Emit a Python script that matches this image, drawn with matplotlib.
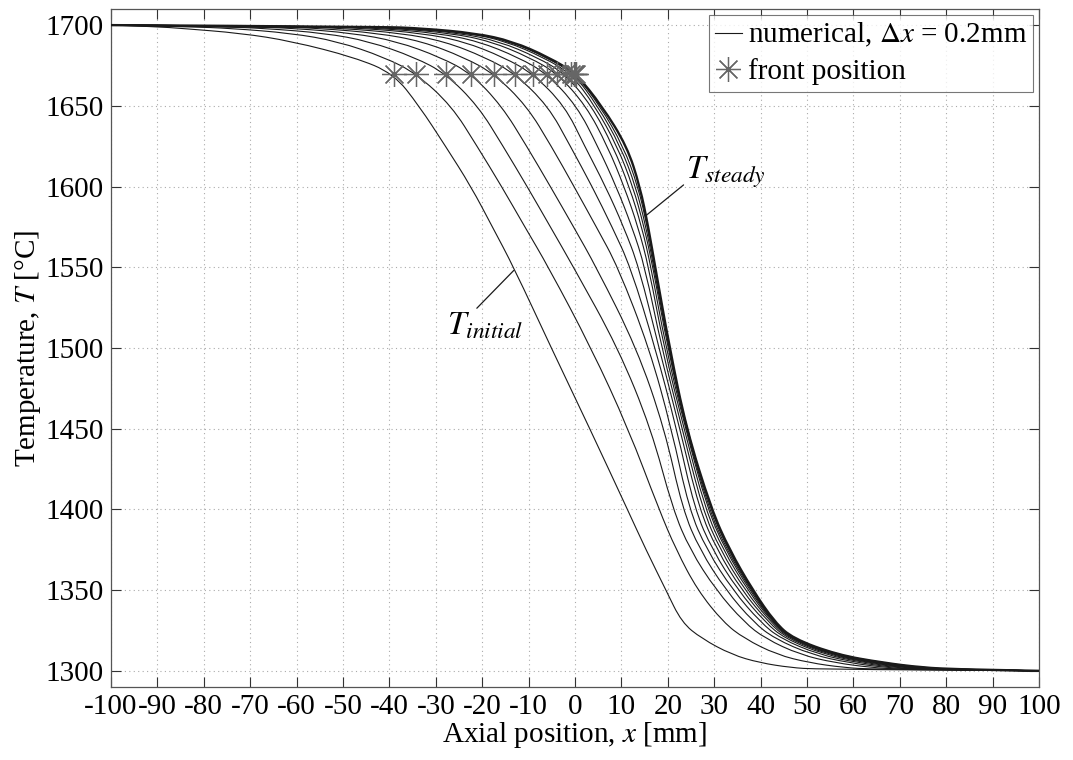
import matplotlib
matplotlib.use('Agg')
import matplotlib.pyplot as plt
from matplotlib.path import Path
from matplotlib.patches import PathPatch
from matplotlib.lines import Line2D

plt.rcParams['font.family'] = ['Liberation Serif', 'DejaVu Serif']
plt.rcParams['mathtext.fontset'] = 'stix'
plt.rcParams['axes.unicode_minus'] = False

# temperature levels at which the x position of every curve was read
T_levels = [1699, 1698, 1695, 1690, 1680, 1670, 1650, 1625, 1600, 1575, 1550, 1500,
            1450, 1400, 1375, 1350, 1330, 1320, 1310, 1305, 1302, 1301]

# x [mm] of each curve at T_levels (curve 0 = initial, last = steady)
x_c0 = [-90, -85, -72, -61, -47.5, -39.1, -33.6, -27.9, -22.4, -17.8, -13.2, -5.1,
        3.2, 11.3, 15.3, 19.6, 23.0, 27.3, 33.8, 39.8, 46.5, 52.0]
x_c1 = [-83.2, -74.2, -61.2, -51.2, -41.0, -34.2, -26.6, -21.1, -15.8, -10.8, -5.7, 3.5,
        11.5, 18.1, 21.8, 26.4, 32.0, 36.5, 43.5, 50.5, 58.0, 64.0]
x_c2 = [-76.4, -66.9, -53.9, -44.4, -34.5, -27.9, -20.9, -15.5, -10.3, -5.3, -0.3, 9.3,
        16.4, 21.1, 24.8, 30.4, 36.5, 41.0, 48.5, 56.0, 64.0, 70.0]
x_c3 = [-70.4, -60.4, -47.9, -38.4, -28.9, -22.4, -15.8, -10.4, -5.3, -0.3, 4.6, 13.3,
        19.3, 23.2, 26.9, 32.5, 38.5, 43.0, 51.0, 59.0, 67.0, 73.5]
x_c4 = [-65.0, -55.0, -42.5, -33.0, -23.9, -17.5, -10.4, -5.1, -0.2, 4.6, 9.3, 16.0,
        20.8, 24.6, 28.4, 34.0, 40.0, 44.3, 52.6, 61.0, 69.0, 75.5]
x_c5 = [-60.0, -50.0, -37.5, -28.2, -19.3, -13.0, -5.8, -1.0, 3.7, 8.0, 12.0, 17.3,
        21.9, 25.8, 29.6, 35.1, 41.0, 45.2, 53.8, 62.5, 70.5, 77.0]
x_c6 = [-55.1, -45.6, -33.1, -24.1, -15.3, -9.1, -2.2, 2.1, 6.6, 10.5, 13.8, 18.1,
        22.6, 26.8, 30.6, 35.9, 41.7, 45.8, 54.6, 63.5, 71.6, 78.3]
x_c7 = [-51.6, -42.1, -29.6, -20.8, -12.2, -6.1, 0.4, 4.9, 8.9, 12.3, 15.1, 18.7,
        23.1, 27.5, 31.3, 36.6, 42.2, 46.2, 55.2, 64.3, 72.5, 79.3]
x_c8 = [-48.3, -38.8, -26.8, -18.2, -9.8, -3.8, 2.4, 7.0, 10.6, 13.6, 15.9, 19.2,
        23.5, 28.1, 31.9, 37.2, 42.5, 46.5, 55.6, 64.9, 73.2, 80.0]
x_c9 = [-46.2, -36.7, -24.7, -16.4, -8.1, -2.2, 3.6, 8.2, 11.7, 14.4, 16.4, 19.6,
        23.8, 28.6, 32.4, 37.6, 42.7, 46.7, 55.9, 65.4, 73.8, 80.6]
x_c10 = [-43.9, -34.9, -22.9, -14.9, -6.8, -0.9, 4.3, 9.1, 12.5, 14.9, 16.8, 20.0,
         23.9, 28.9, 32.7, 37.9, 42.8, 46.8, 56.1, 65.8, 74.3, 81.1]
x_c11 = [-42.8, -33.8, -22.1, -14.1, -6.1, -0.3, 4.9, 9.8, 13.1, 15.3, 17.0, 20.2,
         24.0, 29.2, 33.0, 38.1, 42.9, 46.9, 56.3, 66.1, 74.6, 81.5]
x_c12 = [-42.3, -33.3, -21.7, -13.7, -5.8, 0.0, 5.4, 10.4, 13.6, 15.6, 17.2, 20.3,
         24.0, 29.3, 33.1, 38.2, 43.0, 46.9, 56.4, 66.3, 74.8, 81.8]
x_steady = [-42.0, -33.0, -21.5, -13.5, -5.6, 0.2, 5.8, 11.2, 14.0, 15.8, 17.3, 20.4,
            24.0, 29.4, 33.3, 38.3, 43.1, 47.0, 56.5, 66.4, 75.0, 82.0]

curves = [x_c0, x_c1, x_c2, x_c3, x_c4, x_c5, x_c6, x_c7, x_c8, x_c9,
          x_c10, x_c11, x_c12, x_steady]

# boundary values
x_left, T_left = -100, 1700
x_right, T_right = 100, 1300

# front positions (T = 1670)
front_x = [-39.1, -34.2, -27.9, -22.4, -17.5, -13.0, -9.1, -6.1, -3.8, -2.2,
           -0.9, -0.3, 0.0, 0.2]
front_T = 1670


def smooth_path(pts):
    # quadratic b-spline through the read points (drawn by matplotlib as bezier)
    verts = [pts[0]]
    codes = [Path.MOVETO]
    for i in range(1, len(pts) - 1):
        mid = ((pts[i][0] + pts[i + 1][0]) / 2, (pts[i][1] + pts[i + 1][1]) / 2)
        verts += [pts[i], mid]
        codes += [Path.CURVE3, Path.CURVE3]
    verts.append(pts[-1])
    codes.append(Path.LINETO)
    return Path(verts, codes)


fig = plt.figure(figsize=(10.73, 7.6), dpi=100)
ax = fig.add_axes([0.1034, 0.0961, 0.8649, 0.8921])

line_col = '#1a1a1a'
for i, xs in enumerate(curves):
    pts = [(x_left, T_left)] + list(zip(xs, T_levels)) + [(x_right, T_right)]
    lw = 1.7 if i == len(curves) - 1 else 0.8
    ax.add_patch(PathPatch(smooth_path(pts), facecolor='none', edgecolor=line_col,
                           lw=lw, zorder=3))

ax.plot(front_x, [front_T] * len(front_x), linestyle='none', marker=(8, 2, 0),
        markersize=18, markeredgewidth=0.9, color='#666666', zorder=4)

ax.annotate('$T_{steady}$', xy=(15.3, 1582), xytext=(24.0, 1598),
            fontsize=24, ha='left', va='bottom',
            arrowprops=dict(arrowstyle='-', lw=0.9, color=line_col,
                            shrinkA=0, shrinkB=0, relpos=(0, 0.2)))
ax.annotate('$T_{initial}$', xy=(-13.2, 1548), xytext=(-27.5, 1504),
            fontsize=24, ha='left', va='bottom',
            arrowprops=dict(arrowstyle='-', lw=0.9, color=line_col,
                            shrinkA=0, shrinkB=0, relpos=(0.35, 1.0)))

ax.set_xlim(-100, 100)
ax.set_ylim(1290, 1710)
ax.set_xticks(range(-100, 101, 10))
ax.set_yticks(range(1300, 1701, 50))
ax.tick_params(direction='in', top=True, right=True, length=7, width=0.8,
               labelsize=21, colors='#333333', labelcolor='black', pad=5)
for s in ax.spines.values():
    s.set_color('#555555')
    s.set_linewidth(0.9)
ax.grid(True, linestyle=(0, (1, 3)), color='#aaaaaa', linewidth=0.8)

ax.set_xlabel('Axial position, $x$ [mm]', fontsize=21, labelpad=0)
ax.set_ylabel('Temperature, $T$ [°C]', fontsize=21, labelpad=2)

handles = [Line2D([], [], color=line_col, lw=0.8),
           Line2D([], [], linestyle='none', marker=(8, 2, 0), markersize=18,
                  markeredgewidth=0.9, color='#666666')]
labels = ['numerical, $\\Delta x$ = 0.2mm', 'front position']
leg = ax.legend(handles, labels, loc='upper right', fontsize=21, frameon=True,
                fancybox=False, borderaxespad=0.2, handlelength=0.92,
                handletextpad=0.2, borderpad=0.22, labelspacing=0.3)
leg.get_frame().set_edgecolor('#555555')
leg.get_frame().set_linewidth(0.8)

fig.savefig('out.png', dpi=100)
